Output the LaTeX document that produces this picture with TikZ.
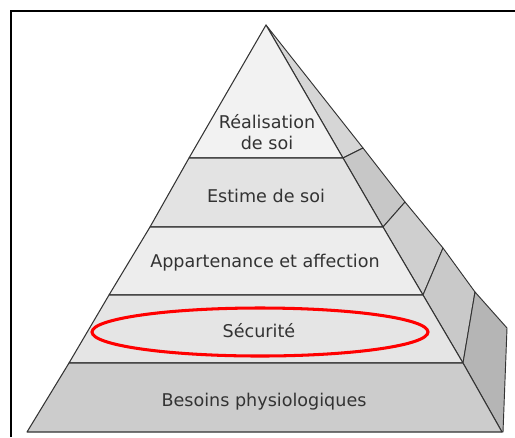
\documentclass[tikz,border=0pt]{standalone}
\usepackage{fontspec}
\setmainfont{DejaVu Sans}
\definecolor{edge}{HTML}{333333}
\definecolor{txt}{HTML}{333333}
\tikzset{
  layer/.style={draw=edge,line width=0.9pt,line join=round},
  side/.style={draw=edge,line width=0.8pt,line join=round},
  label/.style={text=txt,font=\fontsize{15}{17.5}\selectfont,align=center,inner sep=0pt}
}
\begin{document}
\begin{tikzpicture}[x=0.03cm,y=-0.03cm]
\useasboundingbox (0,0) rectangle (515,437);
\fill[white] (0,0) rectangle (515,437);
% points of the front face
\coordinate (top) at (266,25);
\coordinate (l1) at (189,158); \coordinate (r1) at (343,158);
\coordinate (l2) at (150,227); \coordinate (r2) at (383,227);
\coordinate (l3) at (109,295); \coordinate (r3) at (423,295);
\coordinate (l4) at (69,363);  \coordinate (r4) at (463,363);
\coordinate (l5) at (27,432);  \coordinate (r5) at (502,432);
% points of the side face
\coordinate (o1) at (363,148);
\coordinate (o2) at (405,202);
\coordinate (o3) at (443,248);
\coordinate (o4) at (475,292);
\coordinate (corner) at (507,328);
\coordinate (foot) at (503,432);
% side face
\draw[side,fill=black!16] (top) -- (r1) -- (o1) -- cycle;
\draw[side,fill=black!22] (r1) -- (r2) -- (o2) -- (o1) -- cycle;
\draw[side,fill=black!19] (r2) -- (r3) -- (o3) -- (o2) -- cycle;
\draw[side,fill=black!21] (r3) -- (r4) -- (o4) -- (o3) -- cycle;
\draw[side,fill=black!29] (r4) -- (r5) -- (foot) -- (corner) -- (o4) -- cycle;
% front layers
\draw[layer,fill=black!5] (top) -- (l1) -- (r1) -- cycle;
\draw[layer,fill=black!11] (l1) -- (l2) -- (r2) -- (r1) -- cycle;
\draw[layer,fill=black!7] (l2) -- (l3) -- (r3) -- (r2) -- cycle;
\draw[layer,fill=black!10] (l3) -- (l4) -- (r4) -- (r3) -- cycle;
\draw[layer,fill=black!20] (l4) -- (l5) -- (r5) -- (r4) -- cycle;
% labels
\node[label] (realisation) at (267,132) {Réalisation\\de soi};
\node[label] (estime) at (266,196) {Estime de soi};
\node[label] (appartenance) at (265,263) {Appartenance et affection};
\node[label] (securite) at (259,331) {Sécurité};
\node[label] (besoins) at (264,402) {Besoins physiologiques};
% highlight
\draw[red,line width=2.6pt] (260,332) ellipse (5.04cm and 0.72cm);
% frame
\draw[line width=2.4pt] (11,437) -- (11,11) -- (515,11);
\end{tikzpicture}
\end{document}
